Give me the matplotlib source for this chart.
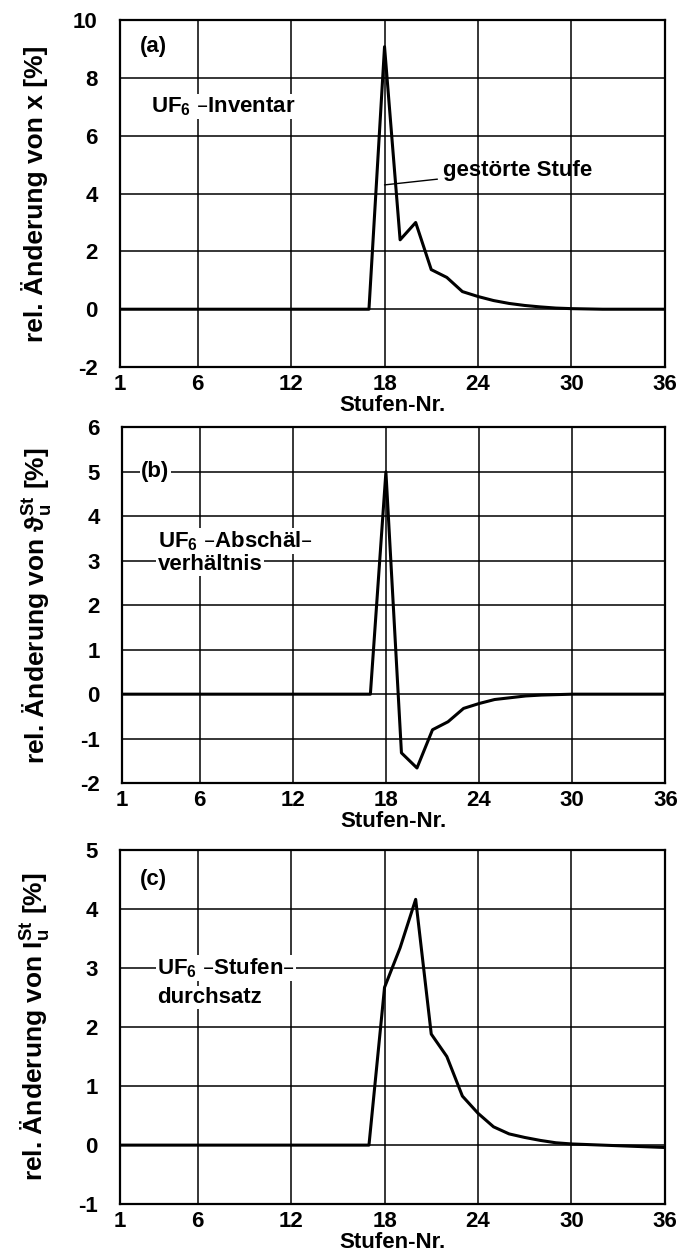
import numpy as np
import matplotlib.pyplot as plt

plt.rcParams['font.family'] = ['Liberation Sans', 'DejaVu Sans']
plt.rcParams['font.weight'] = 'bold'
plt.rcParams['axes.labelweight'] = 'bold'
plt.rcParams['axes.unicode_minus'] = False
plt.rcParams['mathtext.default'] = 'regular'

# Stufen-Nr. 1..36
stufen = np.arange(1, 37)

# (a) rel. Aenderung von x [%] (UF6-Inventar)
inventar = [0.0] * 16 + [0.0, 9.08, 2.40, 3.0, 1.37, 1.10, 0.61, 0.44, 0.30, 0.20,
                         0.13, 0.08, 0.04, 0.02, 0.01, 0.0, 0.0, 0.0, 0.0, 0.0]
# (b) UF6-Abschaelverhaeltnis
abschael = [0.0] * 16 + [0.0, 5.0, -1.32, -1.66, -0.80, -0.62, -0.32, -0.21, -0.12, -0.08,
                         -0.04, -0.02, -0.01, 0.0, 0.0, 0.0, 0.0, 0.0, 0.0, 0.0]
# (c) UF6-Stufendurchsatz
durchsatz = [0.0] * 16 + [0.0, 2.67, 3.34, 4.16, 1.88, 1.50, 0.83, 0.54, 0.31, 0.19,
                          0.13, 0.08, 0.04, 0.02, 0.01, 0.0, -0.01, -0.02, -0.03, -0.04]

xticks = [1, 6, 12, 18, 24, 30, 36]

fig = plt.figure(figsize=(6.77, 12.57), dpi=100)

panels = [
    dict(rect=[0.177, 0.708, 0.805, 0.276], y=inventar, ylim=(-2, 10), yticks=[-2, 0, 2, 4, 6, 8, 10],
         ylabel="rel. Änderung von x [%]", tag="(a)", tagy=9.07,
         texts=[(3.0, 7.0, "UF$_6$ –Inventar")]),
    dict(rect=[0.180, 0.377, 0.803, 0.283], y=abschael, ylim=(-2, 6), yticks=[-2, -1, 0, 1, 2, 3, 4, 5, 6],
         ylabel=r"rel. Änderung von $\vartheta_u^{St}$ [%]", tag="(b)", tagy=5.0,
         texts=[(3.3, 3.45, "UF$_6$ –Abschäl–"), (3.3, 2.92, "verhältnis")]),
    dict(rect=[0.177, 0.042, 0.805, 0.282], y=durchsatz, ylim=(-1, 5), yticks=[-1, 0, 1, 2, 3, 4, 5],
         ylabel=r"rel. Änderung von $I_u^{St}$ [%]", tag="(c)", tagy=4.5,
         texts=[(3.4, 3.0, "UF$_6$ –Stufen–"), (3.4, 2.5, "durchsatz")]),
]

for p in panels:
    ax = fig.add_axes(p["rect"])
    ax.set_xlim(1, 36)
    ax.set_ylim(*p["ylim"])
    ax.set_xticks(xticks)
    ax.set_yticks(p["yticks"])
    ax.grid(True, color="black", linewidth=1.1)
    ax.set_axisbelow(True)
    ax.tick_params(length=0, labelsize=16, pad=5)
    ax.tick_params(axis="y", pad=16)
    for s in ax.spines.values():
        s.set_linewidth(1.6)
    ax.plot(stufen, p["y"], color="black", linewidth=2.2, zorder=3)
    ax.set_xlabel("Stufen-Nr.", fontsize=16, labelpad=0)
    ax.set_ylabel(p["ylabel"], fontsize=19, labelpad=18)
    ax.text(3.15, p["tagy"], p["tag"], fontsize=16, ha="center", va="center",
            bbox=dict(facecolor="white", edgecolor="none", pad=1), zorder=4)
    for tx, ty, t in p["texts"]:
        ax.text(tx, ty, t, fontsize=16, ha="left", va="center",
                bbox=dict(facecolor="white", edgecolor="none", pad=1), zorder=4)

# gestoerte Stufe annotation in (a)
ax_a = fig.axes[0]
ax_a.annotate("gestörte Stufe", xy=(18.0, 4.3), xytext=(21.75, 4.8), fontsize=16,
              ha="left", va="center",
              arrowprops=dict(arrowstyle="-", color="black", linewidth=1.0,
                              shrinkA=2, shrinkB=0))

fig.savefig("out.png", dpi=100)
